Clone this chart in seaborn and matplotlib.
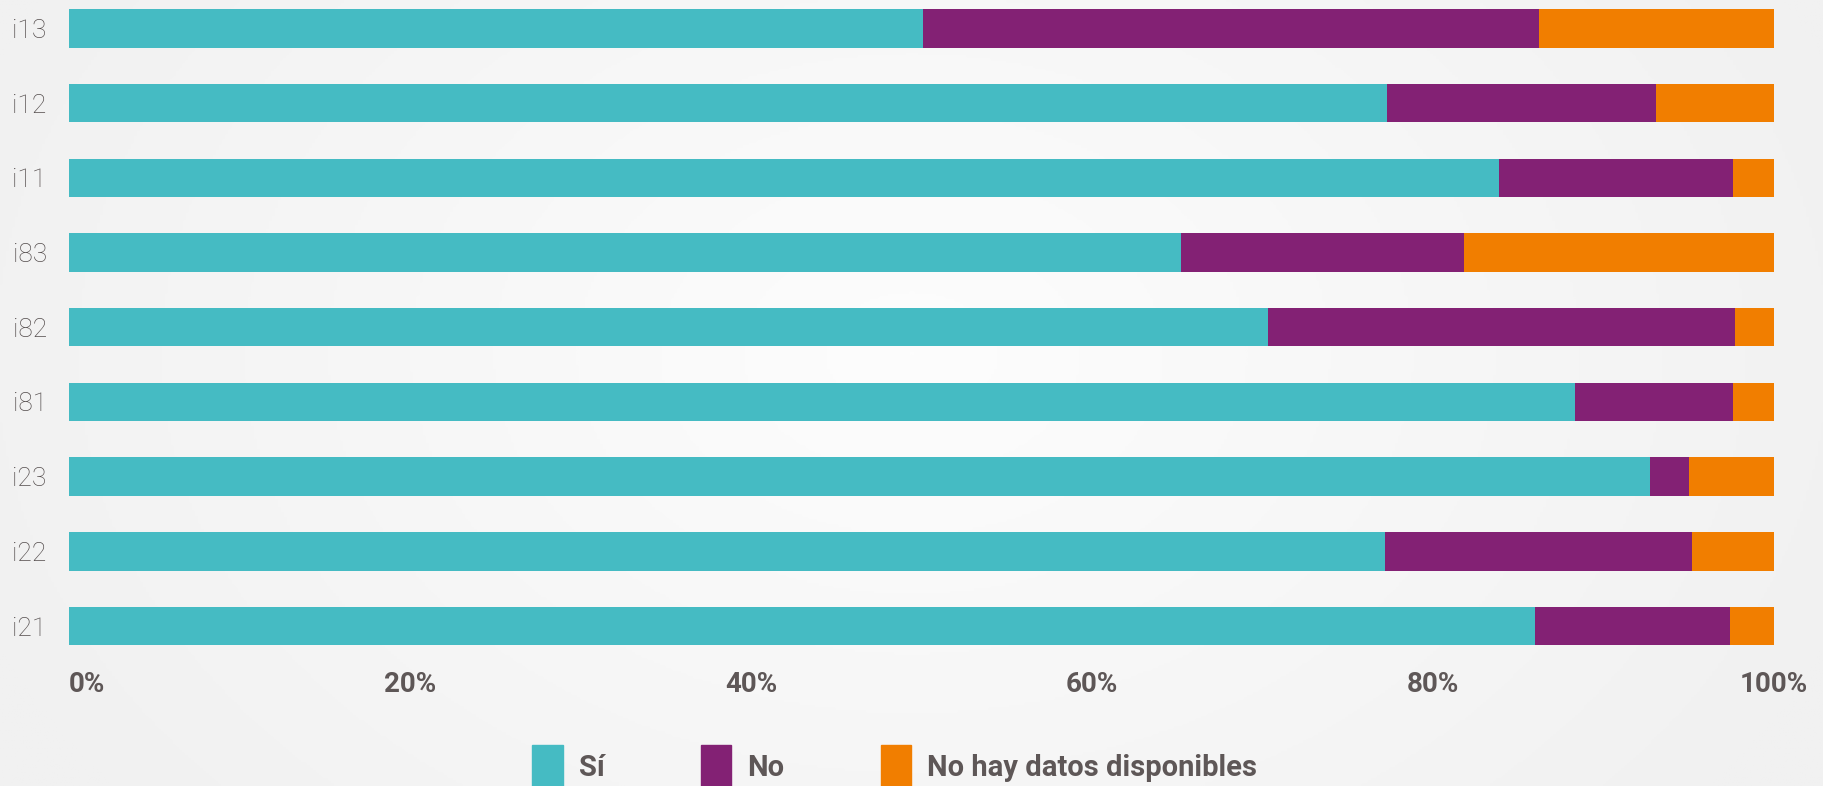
import numpy as np
import pandas as pd
import seaborn as sns
import matplotlib.pyplot as plt
from matplotlib.patches import Patch
from matplotlib.colors import LinearSegmentedColormap

# values (percent of respondents)
items = ["i13", "i12", "i11", "i83", "i82", "i81", "i23", "i22", "i21"]
si = [50.1, 77.3, 83.9, 65.2, 70.3, 88.3, 92.7, 77.2, 86.0]
no = [36.1, 15.8, 13.7, 16.6, 27.4, 9.3, 2.3, 18.0, 11.4]
sin_datos = [13.8, 6.9, 2.4, 18.2, 2.3, 2.4, 5.0, 4.8, 2.6]
series = ["Sí", "No", "No hay datos disponibles"]
colors = ["#45BBC3", "#832174", "#F17E00"]
xticks = [0, 20, 40, 60, 80, 100]

text_col = "#5E5757"

sns.set_theme(style="white")
plt.rcParams["font.family"] = ["Roboto", "DejaVu Sans"]

fig = plt.figure(figsize=(18.24, 7.86), dpi=100)

# soft radial background
bg = fig.add_axes([0, 0, 1, 1], zorder=-1)
yy, xx = np.mgrid[0:1:300j, 0:1:600j]
r = np.sqrt((xx - 0.5) ** 2 + ((yy - 0.45) * 0.6) ** 2)
cmap = LinearSegmentedColormap.from_list("bg", ["#FDFDFD", "#F1F1F1"])
bg.imshow(r, cmap=cmap, vmin=0, vmax=0.55, aspect="auto", extent=[0, 1, 0, 1])
bg.axis("off")

ax = fig.add_axes([69 / 1824, 1 - 660 / 786, 1705 / 1824, 660 / 786])
ax.patch.set_alpha(0)

df = pd.DataFrame({"item": items, "si": si, "no": no, "nd": sin_datos})
df["c2"] = df["si"] + df["no"]
df["c3"] = df["c2"] + df["nd"]

for col, c in zip(["c3", "c2", "si"], colors[::-1]):
    sns.barplot(data=df, y="item", x=col, color=c, width=0.514,
                saturation=1, linewidth=0, ax=ax, orient="h")

ax.set_xlim(0, 100)
ax.set_ylim(8.454, -0.3815)
ax.set_xlabel("")
ax.set_ylabel("")
ax.set_xticks(xticks)
ax.set_xticklabels([f"{t}%" for t in xticks], fontsize=20, fontweight="bold",
                   color=text_col)
ax.get_xticklabels()[0].set_horizontalalignment("left")
ax.tick_params(axis="x", length=0, pad=8)
ax.tick_params(axis="y", length=0, pad=16, labelsize=19, labelcolor="#544D4D")
for lab in ax.get_yticklabels():
    lab.set_fontweight("light")
sns.despine(ax=ax, left=True, bottom=True)

handles = [Patch(color=c, label=s) for c, s in zip(colors, series)]
fig.legend(handles=handles, loc="upper left",
           bbox_to_anchor=(532 / 1824, 1 - 745 / 786), ncol=3, frameon=False,
           prop={"size": 21, "weight": "bold"}, labelcolor=text_col,
           handlelength=1.05, handleheight=1.9, handletextpad=0.55,
           columnspacing=3.3, borderpad=0, borderaxespad=0)

fig.savefig("out.png", dpi=100)
